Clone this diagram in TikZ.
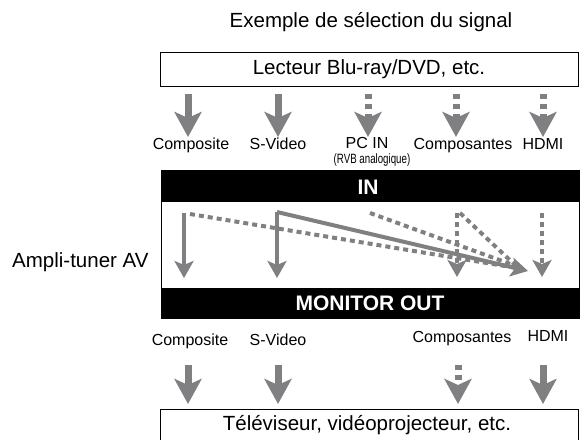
\documentclass[tikz,border=0pt]{standalone}
\usepackage{fontspec}
\setmainfont{Liberation Sans}
\usetikzlibrary{arrows.meta}
\definecolor{agray}{RGB}{128,128,130}
\begin{document}
\begin{tikzpicture}[x=1pt,y=-1pt,
  txt/.style={inner sep=0pt,font=\fontsize{20.5}{22}\selectfont},
  lbl/.style={inner sep=0pt,anchor=base,font=\fontsize{16}{18}\selectfont},
  band/.style={inner sep=0pt,text=white,font=\fontsize{21}{22}\selectfont\bfseries},
  boxline/.style={draw=black,line width=1pt},
  bigarrow/.style={draw=agray,line width=7pt,-{Stealth[length=25pt,width=27pt,inset=6pt]}},
  smallarrow/.style={draw=agray,line width=4pt,-{Stealth[length=17pt,width=19pt,inset=4pt]}},
  bigdash/.style={dash pattern=on 5pt off 5pt},
  smalldash/.style={dash pattern=on 5pt off 4pt},
  plainline/.style={draw=agray,line width=4pt}]
\useasboundingbox (0,0) rectangle (583,439);

% title
\node[txt] (title) at (371,22) {Exemple de sélection du signal};

% source box
\draw[boxline] (160.5,52) rectangle (578.5,86);
\node[txt] (src) at (369,69) {Lecteur Blu-ray/DVD, etc.};

% top arrows
\foreach \n/\x in {ta1/188,ta2/278,ta3/368,ta4/456,ta5/543}{
  \coordinate (\n s) at (\x,94);
  \coordinate (\n e) at (\x,137);
}
\draw[bigarrow] (ta1s) -- (ta1e);
\draw[bigarrow] (ta2s) -- (ta2e);
\draw[bigarrow,bigdash] (ta3s) -- (ta3e);
\draw[bigarrow,bigdash] (ta4s) -- (ta4e);
\draw[bigarrow,bigdash] (ta5s) -- (ta5e);

% top labels
\node[lbl] (l1) at (191,149) {Composite};
\node[lbl] (l2) at (278,149) {S-Video};
\node[lbl] (l3) at (367,148) {PC IN};
\node[inner sep=0pt,anchor=base] (l3b) at (372,163) {\scalebox{0.72}[1]{\fontsize{13.5}{14}\selectfont(RVB analogique)}};
\node[lbl] (l4) at (463,149) {Composantes};
\node[lbl] (l5) at (543,149) {HDMI};

% amplifier
\fill[black] (160.5,170) rectangle (579,202);
\fill[black] (160.5,288) rectangle (579,318);
\draw[boxline] (161,170) rectangle (579,318);
\node[band] (in) at (368,187) {IN};
\node[band] (mo) at (370,303) {MONITOR OUT};
\node[txt,anchor=west] (amp) at (12,262) {Ampli-tuner AV};

% interior coordinates
\coordinate (ic) at (184,213);
\coordinate (icd) at (190,214);
\coordinate (oc) at (184,278);
\coordinate (is) at (277,212);
\coordinate (os) at (277,278);
\coordinate (ip) at (370,213);
\coordinate (ik) at (457,213);
\coordinate (ikd) at (460,213);
\coordinate (ok) at (457,277);
\coordinate (ih) at (542,213);
\coordinate (oh) at (542,277);
\coordinate (hx) at (528,271);
\coordinate (hc) at (517,268);
\coordinate (hp) at (516,266);
\coordinate (hk) at (515,265);

% dashed converging lines
\draw[plainline,smalldash] (icd) -- (hc);
\draw[plainline,smalldash] (ip) -- (hp);
\draw[plainline,smalldash] (ikd) -- (hk);
% vertical outputs
\draw[smallarrow] (ic) -- (oc);
\draw[smallarrow] (is) -- (os);
\draw[smallarrow,smalldash] (ik) -- (ok);
\draw[smallarrow,smalldash] (ih) -- (oh);
% S-Video to HDMI
\draw[smallarrow] (is) -- (hx);

% bottom labels
\node[lbl] (b1) at (190,345) {Composite};
\node[lbl] (b2) at (278,345) {S-Video};
\node[lbl] (b3) at (462,342) {Composantes};
\node[lbl] (b4) at (548,341) {HDMI};

% bottom arrows
\foreach \n/\x in {ba1/188,ba2/278,ba3/458,ba4/543}{
  \coordinate (\n s) at (\x,365);
  \coordinate (\n e) at (\x,404);
}
\draw[bigarrow] (ba1s) -- (ba1e);
\draw[bigarrow] (ba2s) -- (ba2e);
\draw[bigarrow,bigdash] (ba3s) -- (ba3e);
\draw[bigarrow] (ba4s) -- (ba4e);

% destination box
\draw[boxline] (160.5,409) rectangle (578.5,450);
\node[txt] (dst) at (367,425) {Téléviseur, vidéoprojecteur, etc.};
\end{tikzpicture}
\end{document}
